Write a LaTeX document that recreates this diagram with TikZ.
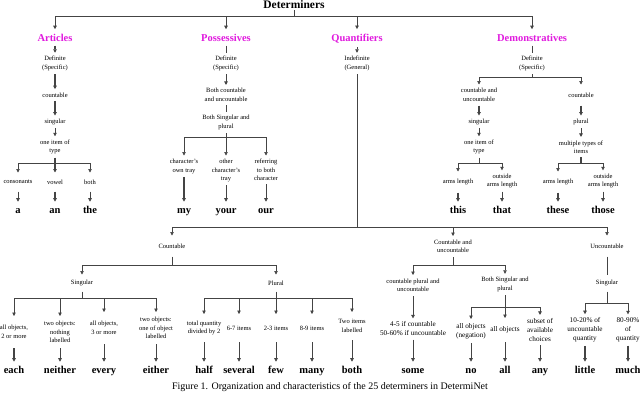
\documentclass[tikz,border=0pt]{standalone}
\usepackage{fontspec}
\setmainfont{Liberation Serif}
\usepackage{tikz}
\usetikzlibrary{arrows.meta,positioning,calc}
\definecolor{catMagenta}{HTML}{E01ADE}
\definecolor{lineGray}{HTML}{444444}

\begin{document}
\begin{tikzpicture}[
            x=1pt, y=-1pt,
            title/.style={
                    font=\fontsize{11.5}{13}\selectfont\bfseries,
                    anchor=base,
                    inner sep=1pt
                },
            cat/.style={
                    font=\fontsize{10.5}{12}\selectfont\bfseries,
                    text=catMagenta,
                    anchor=base,
                    inner sep=1.5pt,
                    outer sep=3pt
                },
            note/.style={
                    font=\fontsize{6.5}{8.5}\selectfont,
                    align=center,
                    inner sep=1.5pt,
                    outer sep=2pt
                },
            bigNote/.style={
                    note,
                    font=\fontsize{7.2}{9}\selectfont
                },
            word/.style={
                    font=\fontsize{10.5}{12}\selectfont\bfseries,
                    anchor=base,
                    text height=1.7ex,
                    text depth=0.3ex,
                    inner sep=2pt,
                    outer sep=1.5pt
                },
            caption/.style={
                    font=\fontsize{10}{12}\selectfont,
                    anchor=base
                },
            link/.style={
                    draw=lineGray,
                    line width=0.6pt
                },
            arrow/.style={
                    link,
                    -{Triangle[length=3.5pt,width=3.5pt]}
                },
            boldArrow/.style={
                    arrow,
                    line width=1.1pt
                }
        ]
        \useasboundingbox (0,0) rectangle (640,392);

        % Title
        \node[title] (det) at (294,8.5) {Determiners};
        \coordinate (detJ) at (294,16.5);

        % Categories
        \node[cat] (articles) at (55,41) {Articles};
        \node[cat] (possessives) at (226,41) {Possessives};
        \node[cat] (quantifiers) at (357,41) {Quantifiers};
        \node[cat] (demonstratives) at (532,41) {Demonstratives};

        % Articles
        \node[note] (artDef) at (55,63.5) {Definite\\(Specific)};
        \node[note] (artCnt) at (55,95) {countable};
        \node[note] (artSing) at (55,122) {singular};
        \node[note] (artOne) at (55,147) {one item of\\type};
        \coordinate (artJ) at (55,163);
        \node[note, minimum height=15pt] (artCons) at (18,182) {consonants};
        \node[note, minimum height=15pt] (artVow) at (55,182) {vowel};
        \node[note, minimum height=15pt] (artBoth) at (90,182) {both};
        \node[word] (wA) at (18,213) {a};
        \node[word] (wAn) at (55,213) {an};
        \node[word] (wThe) at (90,213) {the};

        % Possessives
        \node[note] (posDef) at (226,63.5) {Definite\\(Specific)};
        \node[note] (posCU) at (226,95) {Both countable\\and uncountable};
        \node[note] (posSP) at (226,122.5) {Both Singular and\\plural};
        \coordinate (posJ) at (226,137);
        \node[note, anchor=north] (posOwn) at (184,155.5) {character's\\own tray};
        \node[note, anchor=north] (posOther) at (226,155.5) {other\\character's\\tray};
        \node[note, anchor=north] (posRef) at (266,155.5) {referring\\to both\\character};
        \node[word] (wMy) at (184,213) {my};
        \node[word] (wYour) at (226,213) {your};
        \node[word] (wOur) at (266,213) {our};

        % Quantifiers
        \node[note] (quaInd) at (357,63.5) {Indefinite\\(General)};
        \coordinate (quaJ) at (357,227);
        \node[note, minimum height=17pt] (quaCnt) at (172,246) {Countable};
        \node[note, minimum height=17pt] (quaCU) at (453,246.5) {Countable and\\uncountable};
        \node[note, minimum height=17pt] (quaUnc) at (607,246) {Uncountable};

        % Quantifiers: countable
        \coordinate (cntJ) at (172,265);
        \node[note, minimum height=13pt] (cntSing) at (82,283) {Singular};
        \node[note, minimum height=13pt] (cntPlur) at (276,283) {Plural};
        \coordinate (sgJ) at (82,298);
        \node[note, minimum height=28pt] (sgEach) at (14,332) {all objects,\\2 or more};
        \node[note, minimum height=28pt] (sgNeither) at (60,332) {two objects:\\nothing\\labelled};
        \node[note, minimum height=28pt] (sgEvery) at (104,328) {all objects,\\3 or more};
        \node[note, minimum height=28pt] (sgEither) at (156,328) {two objects:\\one of object\\labelled};
        \coordinate (plJ) at (276,298);
        \node[note, minimum height=24pt] (plHalf) at (204,328) {total quantity\\divided by 2};
        \node[note, minimum height=24pt] (plSev) at (239,328) {6-7 items};
        \node[note, minimum height=24pt] (plFew) at (276,328) {2-3 items};
        \node[note, minimum height=24pt] (plMany) at (312,328) {8-9 items};
        \node[note, minimum height=24pt] (plBoth) at (352,326) {Two items\\labelled};
        \node[word] (wEach) at (14,373) {each};
        \node[word] (wNeither) at (60,373) {neither};
        \node[word] (wEvery) at (104,373) {every};
        \node[word] (wEither) at (156,373) {either};
        \node[word] (wHalf) at (204,373) {half};
        \node[word] (wSeveral) at (239,373) {several};
        \node[word] (wFew) at (276,373) {few};
        \node[word] (wMany) at (312,373) {many};
        \node[word] (wBoth) at (352,373) {both};

        % Quantifiers: countable and uncountable
        \coordinate (cuJ) at (453,265);
        \node[note, minimum height=17pt] (cuPl) at (413,285.5) {countable plural and\\uncountable};
        \node[note, minimum height=17pt] (cuSP) at (505,284.5) {Both Singular and\\plural};
        \node[bigNote] (cuSome) at (413,329) {4-5 if countable\\50-60\% if uncountable};
        \coordinate (spJ) at (505,307);
        \node[bigNote, minimum height=20pt] (cuNeg) at (471,331) {all objects\\(negation)};
        \node[bigNote, minimum height=20pt] (cuAll) at (505,330) {all objects};
        \node[bigNote, minimum height=20pt] (cuSub) at (540,330) {subset of\\available\\choices};
        \node[word] (wSome) at (413,373) {some};
        \node[word] (wNo) at (471,373) {no};
        \node[word] (wAll) at (505,373) {all};
        \node[word] (wAny) at (540,373) {any};

        % Quantifiers: uncountable
        \node[note, minimum height=13pt] (uncSing) at (607,283) {Singular};
        \coordinate (uncJ) at (607,303);
        \node[bigNote] (uncLittle) at (585,330) {10-20\% of\\uncountable\\quantity};
        \node[bigNote] (uncMuch) at (628,330) {80-90\%\\of\\quantity};
        \node[word] (wLittle) at (585,373) {little};
        \node[word] (wMuch) at (628,373) {much};

        % Demonstratives
        \node[note] (demDef) at (532,63.5) {Definite\\(Specific)};
        \coordinate (demJ) at (532,77);
        \node[note, minimum height=17pt] (demCU) at (479,95) {countable and\\uncountable};
        \node[note, minimum height=17pt] (demCnt) at (581,95) {countable};
        \node[note] (demSing) at (479,122) {singular};
        \node[note] (demPlur) at (581,122) {plural};
        \node[note] (demOne) at (479,147) {one item of\\type};
        \node[note] (demMult) at (581,147) {multiple types of\\items};
        \coordinate (oneJ) at (479,163);
        \coordinate (multJ) at (581,163);
        \node[note, minimum height=17pt] (demArms) at (458,182) {arms length};
        \node[note, minimum height=17pt] (demOut) at (502,181) {outside\\arms length};
        \node[note, minimum height=17pt] (demArmsB) at (558,182) {arms length};
        \node[note, minimum height=17pt] (demOutB) at (603,181) {outside\\arms length};
        \node[word] (wThis) at (458,213) {this};
        \node[word] (wThat) at (502,213) {that};
        \node[word] (wThese) at (558,213) {these};
        \node[word] (wThose) at (603,213) {those};

        % Caption
        \node[caption] (cap) at (330,389) {Figure 1. Organization and characteristics of the 25 determiners in DetermiNet};

        % Relations: title
        \draw[link] (det) -- (detJ);
        \draw[arrow] (detJ) -| (articles);
        \draw[arrow] (detJ) -| (possessives);
        \draw[arrow] (detJ) -| (quantifiers);
        \draw[arrow] (detJ) -| (demonstratives);

        % Relations: articles
        \draw[boldArrow] (articles) -- (artDef);
        \draw[boldArrow] (artDef) -- (artCnt);
        \draw[boldArrow] (artCnt) -- (artSing);
        \draw[arrow] (artSing) -- (artOne);
        \draw[link, line width=1.1pt] (artOne) -- (artJ);
        \draw[arrow] (artJ) -| (artCons);
        \draw[boldArrow] (artJ) -- (artVow);
        \draw[arrow] (artJ) -| (artBoth);
        \draw[arrow] (artCons) -- (wA);
        \draw[boldArrow] (artVow) -- (wAn);
        \draw[arrow] (artBoth) -- (wThe);

        % Relations: possessives
        \draw[link] (possessives) -- (posDef);
        \draw[arrow] (posDef) -- (posCU);
        \draw[link] (posCU) -- (posSP);
        \draw[link] (posSP) -- (posJ);
        \draw[arrow] (posJ) -| (posOwn);
        \draw[arrow] (posJ) -- (posOther);
        \draw[arrow] (posJ) -| (posRef);
        \draw[boldArrow] (posOwn) -- (wMy);
        \draw[arrow] (posOther) -- (wYour);
        \draw[arrow] (posRef) -- (wOur);

        % Relations: quantifiers
        \draw[arrow] (quantifiers) -- (quaInd);
        \draw[link] (quaInd) -- (quaJ);
        \draw[arrow] (quaJ) -| (quaCnt);
        \draw[arrow] (quaJ) -| (quaCU);
        \draw[arrow] (quaJ) -| (quaUnc);

        \draw[link] (quaCnt) -- (cntJ);
        \draw[arrow] (cntJ) -| (cntSing);
        \draw[arrow] (cntJ) -| (cntPlur);
        \draw[link] (cntSing) -- (sgJ);
        \draw[arrow] (sgJ) -| (sgEach);
        \draw[arrow] (sgJ) -| (sgNeither);
        \draw[arrow] (sgJ) -| (sgEvery);
        \draw[arrow] (sgJ) -| (sgEither);
        \draw[boldArrow] (sgEach) -- (wEach);
        \draw[arrow] (sgNeither) -- (wNeither);
        \draw[arrow] (sgEvery) -- (wEvery);
        \draw[arrow] (sgEither) -- (wEither);
        \draw[link] (cntPlur) -- (plJ);
        \draw[arrow] (plJ) -| (plHalf);
        \draw[arrow] (plJ) -| (plSev);
        \draw[arrow] (plJ) -- (plFew);
        \draw[arrow] (plJ) -| (plMany);
        \draw[arrow] (plJ) -| (plBoth);
        \draw[arrow] (plHalf) -- (wHalf);
        \draw[arrow] (plSev) -- (wSeveral);
        \draw[arrow] (plFew) -- (wFew);
        \draw[arrow] (plMany) -- (wMany);
        \draw[arrow] (plBoth) -- (wBoth);

        \draw[link] (quaCU) -- (cuJ);
        \draw[arrow] (cuJ) -| (cuPl);
        \draw[arrow] (cuJ) -| (cuSP);
        \draw[arrow] (cuPl) -- (cuSome);
        \draw[arrow] (cuSome) -- (wSome);
        \draw[link] (cuSP) -- (spJ);
        \draw[arrow] (spJ) -| (cuNeg);
        \draw[arrow] (spJ) -- (cuAll);
        \draw[arrow] (spJ) -| (cuSub);
        \draw[arrow] (cuNeg) -- (wNo);
        \draw[arrow] (cuAll) -- (wAll);
        \draw[arrow] (cuSub) -- (wAny);

        \draw[link] (quaUnc) -- (uncSing);
        \draw[link] (uncSing) -- (uncJ);
        \draw[arrow] (uncJ) -| (uncLittle);
        \draw[arrow] (uncJ) -| (uncMuch);
        \draw[boldArrow] (uncLittle) -- (wLittle);
        \draw[boldArrow] (uncMuch) -- (wMuch);

        % Relations: demonstratives
        \draw[link] (demonstratives) -- (demDef);
        \draw[link] (demDef) -- (demJ);
        \draw[arrow] (demJ) -| (demCU);
        \draw[arrow] (demJ) -| (demCnt);
        \draw[boldArrow] (demCU) -- (demSing);
        \draw[boldArrow] (demCnt) -- (demPlur);
        \draw[arrow] (demSing) -- (demOne);
        \draw[arrow] (demPlur) -- (demMult);
        \draw[link] (demOne) -- (oneJ);
        \draw[link, line width=1.1pt] (demMult) -- (multJ);
        \draw[arrow] (oneJ) -| (demArms);
        \draw[arrow] (oneJ) -| (demOut);
        \draw[arrow] (multJ) -| (demArmsB);
        \draw[arrow] (multJ) -| (demOutB);
        \draw[boldArrow] (demArms) -- (wThis);
        \draw[arrow] (demOut) -- (wThat);
        \draw[boldArrow] (demArmsB) -- (wThese);
        \draw[arrow] (demOutB) -- (wThose);

    \end{tikzpicture}
\end{document}
